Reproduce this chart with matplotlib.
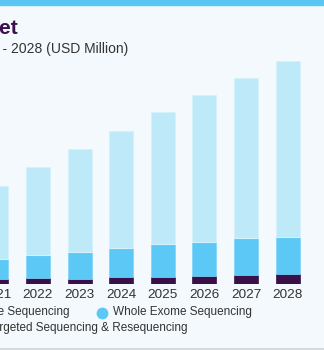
import matplotlib.pyplot as plt
from matplotlib.lines import Line2D

# values (relative units)
years = ['2021', '2022', '2023', '2024', '2025', '2026', '2027', '2028']
targeted = [5.0, 6.0, 5.0, 6.7, 7.3, 8.3, 9.3, 10.0]
exome = [19.7, 23.0, 26.7, 29.3, 33.0, 34.0, 36.3, 37.0]
genome = [73.3, 88.0, 103.3, 117.0, 131.7, 146.7, 160.4, 176.0]

c_dark = '#3a1048'
c_mid = '#5bc8f5'
c_light = '#bde9f9'
bg = '#f4f9fd'

W, H = 324, 350
fig = plt.figure(figsize=(W / 100, H / 100), dpi=100, facecolor=bg)
plt.rcParams['font.family'] = ['Liberation Sans', 'DejaVu Sans']

# axes extends past the left edge, the reference is a crop
ax_l, ax_r = -24.4, 308.4
ax_b, ax_t = 66, 295
ax = fig.add_axes([ax_l / W, ax_b / H, (ax_r - ax_l) / W, (ax_t - ax_b) / H])
ax.set_facecolor(bg)

x = range(len(years))
bw = 0.58
ax.bar(x, targeted, bw, color=c_dark, edgecolor=c_dark, linewidth=0.5)
bottom2 = [a for a in targeted]
ax.bar(x, exome, bw, bottom=bottom2, color=c_mid, edgecolor='#7fd4f7', linewidth=0.5)
bottom3 = [a + b for a, b in zip(targeted, exome)]
ax.bar(x, genome, bw, bottom=bottom3, color=c_light, edgecolor='#d4f1fc', linewidth=0.8)

ax.set_xlim(-0.5, 7.5)
ax.set_ylim(0, ax_t - ax_b)
ax.set_xticks(list(x))
ax.set_xticklabels(years, fontsize=9.7, color='#333333')
ax.tick_params(axis='x', length=0, pad=3.5)
ax.set_yticks([])
for s in ax.spines.values():
    s.set_visible(False)

# top stripe
fig.patches.append(plt.Rectangle((0, 1 - 5 / H), 1, 5 / H, transform=fig.transFigure,
                                 color='#5cc6f2', zorder=5))
# bottom border
fig.add_artist(Line2D([0, 1], [1.5 / H, 1.5 / H], color='#cfd3d6', lw=1.2))

# title / subtitle (cropped on the left)
fig.text(17.5 / W, 1 - 28.5 / H, 'Sequencing Market', ha='right', va='center',
         fontsize=15, fontweight='bold', color='#3b1150')
fig.text(128 / W, 1 - 48.5 / H, 'Market Size, by Technology, 2016 - 2028 (USD Million)',
         ha='right', va='center', fontsize=10, color='#333333')

# legend
fig.text(69.5 / W, 1 - 311.5 / H, 'Whole Genome Sequencing', ha='right', va='center',
         fontsize=8.5, color='#333333')
fig.add_artist(Line2D([102 / W], [1 - 312.5 / H], marker='o', markersize=7.5,
                      color=c_mid, linestyle='none'))
fig.text(113 / W, 1 - 311.5 / H, 'Whole Exome Sequencing', ha='left', va='center',
         fontsize=8.5, color='#333333')
fig.text(187.5 / W, 1 - 328 / H, 'Targeted Sequencing & Resequencing', ha='right',
         va='center', fontsize=8.5, color='#333333')

fig.savefig('out.png', dpi=100, facecolor=bg)
